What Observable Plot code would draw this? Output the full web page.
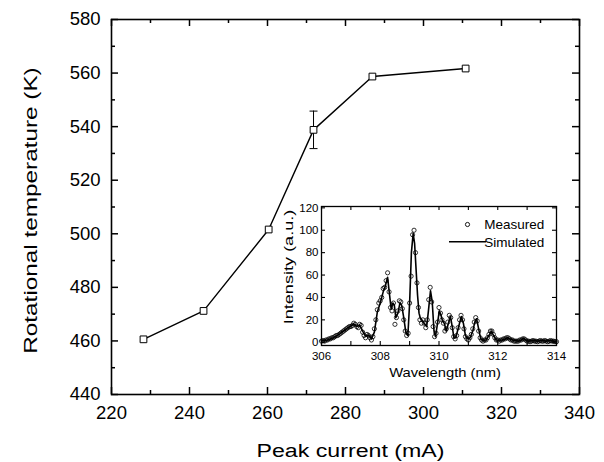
<!DOCTYPE html>
<html><head><meta charset="utf-8">
<script src="https://cdn.jsdelivr.net/npm/d3@7"></script>
<script src="https://cdn.jsdelivr.net/npm/@observablehq/plot@0.6"></script>
<style>
html,body{margin:0;padding:0;background:#fff;}
#wrap{position:relative;width:604px;height:462px;background:#fff;}
#wrap svg{position:absolute;}
</style></head><body><div id="wrap"></div>
<script>
// ---- main chart data ----
const currents = [228.2, 243.6, 260.3, 271.8, 286.9, 310.8];
const rotTemps = [460.6, 471.2, 501.6, 538.8, 558.7, 561.7];
const tempErr  = [0, 0, 0, 7, 0, 0];
const xMajorTicks = [220, 240, 260, 280, 300, 320, 340];
const xMinorTicks = [230, 250, 270, 290, 310, 330];
const yMajorTicks = [440, 460, 480, 500, 520, 540, 560, 580];
const yMinorTicks = [450, 470, 490, 510, 530, 550, 570];
const xTitle = "Peak current (mA)";
const yTitle = "Rotational temperature (K)";

// ---- inset data ----
const simWavelength = [306.00,306.10,306.20,306.30,306.40,306.50,306.60,306.70,306.80,306.90,307.00,307.10,307.20,307.30,307.40,307.50,307.60,307.70,307.80,307.90,308.00,308.10,308.17,308.25,308.31,308.37,308.43,308.48,308.53,308.60,308.67,308.73,308.80,308.87,308.94,309.00,309.06,309.12,309.17,309.22,309.27,309.32,309.37,309.45,309.52,309.58,309.64,309.71,309.77,309.83,309.88,309.94,310.01,310.06,310.12,310.18,310.25,310.32,310.39,310.45,310.51,310.57,310.65,310.76,310.83,310.90,310.98,311.06,311.15,311.22,311.28,311.35,311.42,311.50,311.60,311.70,311.78,311.86,311.95,312.05,312.15,312.25,312.33,312.42,312.55,312.70,312.80,312.87,312.95,313.05,313.20,313.35,313.50,313.65,313.80,313.90,314.00];
const simIntensity  = [1.5,1.5,2,3,4,5.5,7,9,11,13,14.5,16.5,14,15.5,10,5.5,6.5,3,9,27,35,45,50,58,44,30,35,33,22,26,35,33,22,9,6,35,80,97,88,65,42,26,21,19,16,14,28,46,36,10,5,15,28,25,19,17,10,17,23,14,4,4,12,23,17,6,3,4,10,18,21,12,3,1.5,2,6,10,6,2,1.5,2,3,4,3,1.5,1,2,3.5,2,1,1.5,1,1.5,1,1.5,1,0.5];
const measured = [
[306.00,1],[306.05,1.5],[306.10,1],[306.15,2],[306.20,2],[306.25,3],[306.30,3],[306.35,4],[306.40,4],[306.45,5],
[306.50,6],[306.55,6],[306.60,7],[306.65,8],[306.70,9],[306.75,10],[306.80,11],[306.85,12],[306.90,13],[306.95,14],
[307.00,14],[307.05,15],[307.10,17],[307.15,16],[307.20,14],[307.25,13],[307.30,16],[307.35,15],[307.40,9],[307.45,6],
[307.50,4],[307.55,7],[307.60,6],[307.65,4],[307.70,2],[307.75,5],[307.80,12],[307.85,20],[307.90,29],[307.95,35],
[308.00,37],[308.05,40],[308.10,48],[308.15,49],[308.20,55],[308.25,62],[308.30,45],[308.35,31],[308.40,28],[308.45,35],
[308.50,16],[308.55,22],[308.60,28],[308.65,37],[308.70,36],[308.75,30],[308.80,20],[308.85,10],[308.90,6],[308.95,8],
[309.00,35],[309.05,59],[309.10,96],[309.15,100],[309.20,80],[309.25,53],[309.30,31],[309.35,20],[309.40,17],[309.45,20],
[309.50,17],[309.55,13],[309.60,20],[309.65,38],[309.70,49],[309.75,36],[309.80,14],[309.85,5],[309.90,8],[309.95,18],
[310.00,31],[310.05,26],[310.10,20],[310.15,17],[310.20,10],[310.25,12],[310.30,18],[310.35,24],[310.40,22],[310.45,13],
[310.50,5],[310.55,3],[310.60,6],[310.65,13],[310.70,20],[310.75,24],[310.80,20],[310.85,12],[310.90,5],[310.95,3],
[311.00,2],[311.05,4],[311.10,7],[311.15,12],[311.20,18],[311.25,22],[311.30,19],[311.35,10],[311.40,4],[311.45,2],
[311.50,1],[311.55,2],[311.60,2],[311.65,4],[311.70,7],[311.75,10],[311.80,10],[311.85,7],[311.90,4],[311.95,2],
[312.00,2],[312.05,1],[312.10,2],[312.15,2],[312.20,3],[312.25,3],[312.30,4],[312.35,4],[312.40,3],[312.45,2],
[312.50,2],[312.55,1],[312.60,1],[312.65,1],[312.70,1],[312.75,2],[312.80,2],[312.85,3],[312.90,3],[312.95,2],
[313.00,1],[313.05,1],[313.10,0.5],[313.15,1],[313.20,1.5],[313.25,1],[313.30,1],[313.35,0.5],[313.40,1],[313.45,1.5],
[313.50,1],[313.55,1],[313.60,1.5],[313.65,1],[313.70,0.5],[313.75,1],[313.80,1.5],[313.85,1],[313.90,1],[313.95,0.5],
[314.00,0.5]];
const insetXMajor = [306, 308, 310, 312, 314];
const insetXMinor = [307, 309, 311, 313];
const insetYTicks = [0, 20, 40, 60, 80, 100, 120];
const insetXTitle = "Wavelength (nm)";
const insetYTitle = "Intensity (a.u.)";
const legendLabels = ["Measured", "Simulated"];

const FONT = "'Liberation Sans', Arial, Helvetica, sans-serif";

function frameTicks(xt, yt, fw, fh, len, sw) {
  return [
    Plot.ruleX(xt, {x: d => d, insetTop: fh - len, stroke: "#000", strokeWidth: sw}),
    Plot.ruleX(xt, {x: d => d, insetBottom: fh - len, stroke: "#000", strokeWidth: sw}),
    Plot.ruleY(yt, {y: d => d, insetRight: fw - len, stroke: "#000", strokeWidth: sw}),
    Plot.ruleY(yt, {y: d => d, insetLeft: fw - len, stroke: "#000", strokeWidth: sw})
  ];
}

const capSymbol = {draw(ctx, size) { const w = Math.sqrt(size / Math.PI); ctx.moveTo(-w, 0); ctx.lineTo(w, 0); }};

// ---- main plot ----
const W = 604, H = 462, mL = 111, mR = 25, mT = 19, mB = 68;
const fw = W - mL - mR, fh = H - mT - mB;
const pts = currents.map((c, i) => ({x: c, y: rotTemps[i], e: tempErr[i]}));
const errs = pts.filter(d => d.e > 0);

const main = Plot.plot({
  width: W, height: H, marginLeft: mL, marginRight: mR, marginTop: mT, marginBottom: mB,
  style: {fontFamily: FONT, fontSize: "18.5px", color: "#000", background: "transparent", overflow: "visible"},
  x: {domain: [220, 340], axis: null},
  y: {domain: [440, 580], axis: null},
  marks: [
    ...frameTicks(xMajorTicks, yMajorTicks, fw, fh, 7, 1.5),
    ...frameTicks(xMinorTicks, yMinorTicks, fw, fh, 4, 1.5),
    Plot.frame({stroke: "#000", strokeWidth: 1.6}),
    Plot.axisX(xMajorTicks, {anchor: "bottom", tickSize: 0, tickPadding: 11, label: null, fontSize: 18.5}),
    Plot.axisY(yMajorTicks, {anchor: "left", tickSize: 0, tickPadding: 11, label: null, fontSize: 18.5}),
    Plot.text([xTitle], {frameAnchor: "bottom", textAnchor: "middle", lineAnchor: "middle", dx: 5, dy: 57, fontSize: 19}),
    Plot.text([yTitle], {frameAnchor: "left", textAnchor: "middle", lineAnchor: "middle", rotate: -90, dx: -81, dy: 3.5, fontSize: 19}),
    Plot.ruleX(errs, {x: "x", y1: d => d.y - d.e, y2: d => d.y + d.e, stroke: "#000", strokeWidth: 1}),
    Plot.dot(errs, {x: "x", y: d => d.y - d.e, symbol: capSymbol, r: 4, stroke: "#000", fill: "none", strokeWidth: 1}),
    Plot.dot(errs, {x: "x", y: d => d.y + d.e, symbol: capSymbol, r: 4, stroke: "#000", fill: "none", strokeWidth: 1}),
    Plot.line(pts, {x: "x", y: "y", stroke: "#000", strokeWidth: 1.4}),
    Plot.dot(pts, {x: "x", y: "y", symbol: "square", r: 3.8, fill: "#fff", stroke: "#000", strokeWidth: 1})
  ]
});

// ---- inset ----
const IL = 255, IT = 190, IW = 320, IH = 200;
const imL = 66, imR = 19, imT = 16, imB = 45;
const ifw = IW - imL - imR, ifh = IH - imT - imB;
const sim = simWavelength.map((w, i) => ({w, v: simIntensity[i]}));
const meas = measured.map(([w, v]) => ({w, v}));

const legendLine = (index, scales, values, dims) => {
  const g = d3.create("svg:g");
  g.append("line")
    .attr("x1", dims.marginLeft + 128).attr("x2", dims.marginLeft + 165)
    .attr("y1", dims.marginTop + 35.7).attr("y2", dims.marginTop + 35.7)
    .attr("stroke", "#000").attr("stroke-width", 1.6);
  return g.node();
};

const inset = Plot.plot({
  width: IW, height: IH, marginLeft: imL, marginRight: imR, marginTop: imT, marginBottom: imB,
  style: {fontFamily: FONT, fontSize: "12px", color: "#000", background: "transparent", overflow: "visible"},
  x: {domain: [306, 314], axis: null},
  y: {domain: [-2.9, 121.2], axis: null},
  marks: [
    ...frameTicks(insetXMajor, insetYTicks, ifw, ifh, 4, 1.1),
    ...frameTicks(insetXMinor, [], ifw, ifh, 4, 1.1),
    Plot.frame({stroke: "#000", strokeWidth: 1.3}),
    Plot.axisX(insetXMajor, {anchor: "bottom", tickSize: 0, tickPadding: 6, label: null, fontSize: 11.5}),
    Plot.axisY(insetYTicks, {anchor: "left", tickSize: 0, tickPadding: 3, label: null, fontSize: 11.5}),
    Plot.text([insetXTitle], {frameAnchor: "bottom", textAnchor: "middle", lineAnchor: "middle", dx: 6, dy: 27.5, fontSize: 12.5}),
    Plot.text([insetYTitle], {frameAnchor: "left", textAnchor: "middle", lineAnchor: "middle", rotate: -90, dx: -33, dy: -9, fontSize: 12.5}),
    Plot.line(sim, {x: "w", y: "v", stroke: "#000", strokeWidth: 1.6}),
    Plot.dot(meas, {x: "w", y: "v", r: 2.1, stroke: "#000", fill: "none", strokeWidth: 0.8}),
    Plot.dot([legendLabels[0]], {frameAnchor: "top-left", dx: 146, dy: 18, r: 2.1, stroke: "#000", fill: "none", strokeWidth: 0.9}),
    legendLine,
    Plot.text([legendLabels[0]], {frameAnchor: "top-left", dx: 165, dy: 18, textAnchor: "start", lineAnchor: "middle", fontSize: 12.5}),
    Plot.text([legendLabels[1]], {frameAnchor: "top-left", dx: 165, dy: 35.7, textAnchor: "start", lineAnchor: "middle", fontSize: 12.5})
  ]
});

const wrap = document.getElementById("wrap");
main.style.left = "0px"; main.style.top = "0px";
inset.style.left = IL + "px"; inset.style.top = IT + "px";
wrap.appendChild(main);
wrap.appendChild(inset);

// stretch a text along its own baseline direction, keeping its on-screen centre fixed
function stretch(svg, label, s) {
  Array.from(svg.querySelectorAll("text")).filter(t => t.textContent.trim() === label).forEach(t => {
    const tr = t.getAttribute("transform") || "";
    const r0 = t.getBoundingClientRect();
    t.setAttribute("transform", `${tr} scale(${s},1)`);
    const r1 = t.getBoundingClientRect();
    const ddx = (r0.left + r0.width / 2) - (r1.left + r1.width / 2);
    const ddy = (r0.top + r0.height / 2) - (r1.top + r1.height / 2);
    t.setAttribute("transform", `translate(${ddx},${ddy}) ${tr} scale(${s},1)`);
  });
}
stretch(main, xTitle, 1.22);
stretch(main, yTitle, 1.28);
stretch(inset, insetXTitle, 1.18);
stretch(inset, insetYTitle, 1.45);
stretch(inset, legendLabels[0], 1.08);
stretch(inset, legendLabels[1], 1.08);
</script></body></html>
